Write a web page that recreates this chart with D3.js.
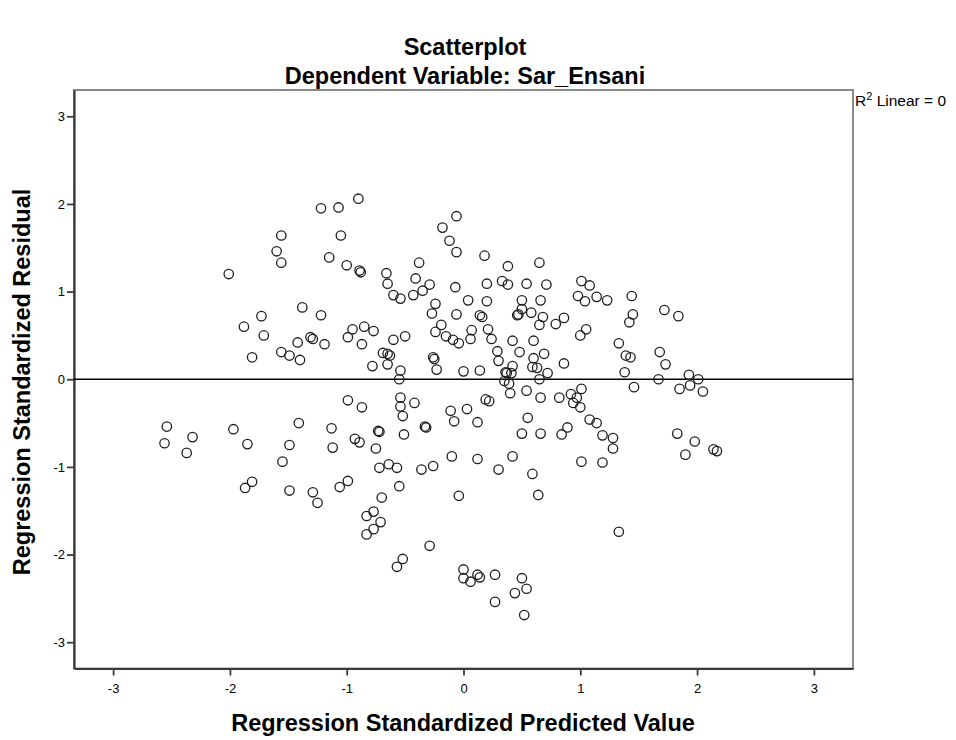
<!DOCTYPE html>
<html>
<head>
<meta charset="utf-8">
<script src="https://cdn.jsdelivr.net/npm/d3@7"></script>
<style>
  body { margin: 0; background: #fff; }
  svg text { font-family: Arial, "Liberation Sans", sans-serif; fill: #000; }
  .ttl { font-weight: bold; font-size: 23.5px; }
  .tick-lbl { font-size: 12px; }
</style>
</head>
<body>
<div id="chart"></div>
<script>
// regression standardized predicted value / residual pairs
var predicted = [-2.01,-1.56,-1.60,-1.56,-1.22,-1.07,-0.90,-1.05,-1.15,-1.00,-0.89,-0.88,-0.66,-0.65,-0.41,-0.29,-0.35,-0.43,-0.60,-0.54,
  -0.18,-0.12,-0.06,-0.06,-0.07,-0.38,0.18,0.38,0.65,0.20,0.33,0.38,0.54,0.71,1.01,1.08,0.04,0.20,0.50,0.66,
  0.98,1.04,1.14,1.23,1.44,-1.38,-1.22,-1.42,-1.31,-1.29,-1.19,-0.95,-0.99,-0.85,-0.77,-0.87,-0.60,-0.50,-0.69,-0.65,
  -0.63,-0.65,-0.78,-0.54,-0.55,-1.40,-1.49,-0.24,-0.27,-0.06,-0.19,-0.24,-0.15,-0.09,-0.04,-0.26,-0.25,-0.23,0.00,-1.73,
  -1.88,-1.71,-1.81,-1.56,0.50,0.58,0.14,0.16,0.46,0.47,0.68,0.65,0.79,0.86,1.00,1.05,1.45,1.42,0.07,0.06,
  0.21,0.24,0.29,0.30,0.42,0.48,0.60,0.69,0.60,0.59,0.63,0.42,0.36,0.37,0.41,0.72,0.65,0.86,0.14,1.33,
  1.39,1.43,1.38,1.72,1.84,1.68,1.73,1.67,1.93,2.01,1.94,1.85,2.05,1.46,1.83,1.98,1.90,2.14,2.17,0.35,
  0.39,0.40,0.54,0.66,0.82,0.92,0.97,1.01,0.94,1.00,0.19,0.22,0.03,0.12,0.55,0.50,0.66,0.84,0.89,1.08,
  1.14,1.19,1.28,1.28,0.12,0.42,0.30,1.01,1.19,-0.54,-0.54,-0.42,-0.52,-0.99,-0.87,-1.41,-1.13,-1.49,-1.12,-0.93,
  -0.89,-0.73,-0.72,-0.75,-0.51,-0.33,-0.32,-0.11,-0.08,-0.10,-0.72,-0.64,-0.57,-0.36,-0.26,-2.54,-2.56,-2.32,-2.37,-1.97,
  -1.85,-1.55,-1.87,-1.81,-1.49,-1.29,-1.25,-1.06,-0.99,-0.55,-0.70,-0.77,-0.83,-0.71,-0.77,-0.83,-0.29,-0.52,-0.57,-0.04,
  0.59,0.64,1.33,0.00,0.00,0.06,0.12,0.14,0.27,0.50,0.54,0.44,0.27,0.52];
var residual = [1.20,1.64,1.46,1.33,1.95,1.96,2.06,1.64,1.39,1.30,1.24,1.22,1.21,1.09,1.15,1.08,1.01,0.96,0.96,0.92,
  1.73,1.58,1.86,1.45,1.05,1.33,1.41,1.29,1.33,1.09,1.12,1.08,1.09,1.08,1.12,1.07,0.90,0.89,0.90,0.90,
  0.95,0.89,0.94,0.90,0.95,0.82,0.73,0.42,0.48,0.46,0.40,0.57,0.48,0.60,0.55,0.40,0.45,0.49,0.30,0.29,
  0.27,0.17,0.15,0.10,0.00,0.22,0.27,0.86,0.75,0.74,0.62,0.54,0.49,0.45,0.41,0.25,0.23,0.11,0.09,0.72,
  0.60,0.50,0.25,0.31,0.80,0.76,0.73,0.71,0.73,0.74,0.71,0.62,0.63,0.70,0.50,0.57,0.74,0.65,0.56,0.46,
  0.57,0.46,0.32,0.21,0.44,0.31,0.44,0.29,0.24,0.14,0.13,0.15,0.08,0.07,0.07,0.07,0.00,0.18,0.10,0.41,
  0.27,0.25,0.08,0.79,0.72,0.31,0.17,0.00,0.05,0.00,-0.07,-0.11,-0.14,-0.09,-0.62,-0.71,-0.86,-0.80,-0.82,-0.02,
  -0.05,-0.16,-0.13,-0.21,-0.21,-0.17,-0.21,-0.11,-0.27,-0.32,-0.23,-0.25,-0.34,-0.49,-0.44,-0.62,-0.62,-0.63,-0.55,-0.46,
  -0.50,-0.64,-0.67,-0.79,-0.91,-0.88,-1.03,-0.94,-0.95,-0.21,-0.31,-0.27,-0.42,-0.24,-0.32,-0.50,-0.56,-0.75,-0.78,-0.68,
  -0.72,-0.59,-0.60,-0.79,-0.63,-0.54,-0.55,-0.36,-0.48,-0.88,-1.01,-0.97,-1.01,-1.03,-0.99,-0.54,-0.73,-0.66,-0.84,-0.57,
  -0.74,-0.94,-1.24,-1.17,-1.27,-1.29,-1.41,-1.23,-1.16,-1.22,-1.35,-1.51,-1.56,-1.63,-1.71,-1.77,-1.90,-2.05,-2.14,-1.33,
  -1.08,-1.32,-1.74,-2.17,-2.27,-2.31,-2.23,-2.26,-2.23,-2.27,-2.39,-2.44,-2.54,-2.69];
var xTicks = [-3, -2, -1, 0, 1, 2, 3];
var yTicks = [3, 2, 1, 0, -1, -2, -3];

var W = 956, H = 740;
var svg = d3.select('#chart').append('svg').attr('width', W).attr('height', H);

var plotL = 74, plotR = 853, plotT = 90, plotB = 668.5;
var x = d3.scaleLinear().domain([-3.335, 3.335]).range([plotL, plotR]);
var y = d3.scaleLinear().domain([-3.3, 3.3]).range([plotB, plotT]);

// titles
svg.append('text').attr('class', 'ttl').attr('x', 465).attr('y', 55)
  .attr('text-anchor', 'middle').text('Scatterplot');
svg.append('text').attr('class', 'ttl').attr('x', 465).attr('y', 84)
  .attr('text-anchor', 'middle').text('Dependent Variable: Sar_Ensani');

// frame: light top/right, darker axes
svg.append('rect').attr('x', plotL).attr('y', plotT).attr('width', plotR - plotL).attr('height', plotB - plotT)
  .attr('fill', 'none').attr('stroke', '#8a8a8a').attr('stroke-width', 2);

var fmt = function (d) { return String(d); };
var xAxis = svg.append('g').attr('transform', 'translate(0,' + plotB + ')')
  .call(d3.axisBottom(x).tickValues(xTicks).tickSize(7).tickSizeOuter(0).tickFormat(fmt));
var yAxis = svg.append('g').attr('transform', 'translate(' + plotL + ',0)')
  .call(d3.axisLeft(y).tickValues(yTicks).tickSize(7).tickSizeOuter(0).tickFormat(fmt));

[xAxis, yAxis].forEach(function (g) {
  g.select('.domain').attr('stroke', '#3a3a3a').attr('stroke-width', 2.2);
  g.selectAll('.tick line').attr('stroke', '#3a3a3a').attr('stroke-width', 1.8);
  g.selectAll('.tick text').attr('class', 'tick-lbl').attr('fill', '#000')
    .style('font-family', 'Arial, "Liberation Sans", sans-serif').style('font-size', '13px');
});
xAxis.selectAll('.tick text').attr('y', 15);
yAxis.selectAll('.tick text').attr('x', -9);

// zero reference line
svg.append('line').attr('x1', plotL).attr('x2', plotR).attr('y1', y(0)).attr('y2', y(0))
  .attr('stroke', '#000').attr('stroke-width', 1.5);

// points
svg.append('g').selectAll('circle').data(d3.range(predicted.length)).join('circle')
  .attr('cx', function (i) { return x(predicted[i]); })
  .attr('cy', function (i) { return y(residual[i]); })
  .attr('r', 4.7)
  .attr('fill', 'none').attr('stroke', '#1e1e1e').attr('stroke-width', 1.3);

// R2 note
var r2 = svg.append('text').attr('x', plotR + 2).attr('y', 106).style('font-size', '15.5px');
r2.append('tspan').text('R');
r2.append('tspan').attr('dy', -6).style('font-size', '11px').text('2');
r2.append('tspan').attr('dy', 6).text(' Linear = 0');

// axis titles
svg.append('text').attr('class', 'ttl').attr('x', 463).attr('y', 731)
  .attr('text-anchor', 'middle').text('Regression Standardized Predicted Value');
svg.append('text').attr('class', 'ttl')
  .attr('transform', 'translate(30,382) rotate(-90)')
  .attr('text-anchor', 'middle').text('Regression Standardized Residual');
</script>
</body>
</html>
